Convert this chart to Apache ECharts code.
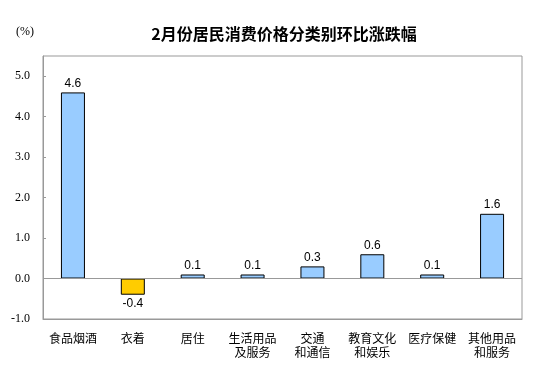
<!DOCTYPE html>
<html>
<head>
<meta charset="utf-8">
<script src="https://cdn.jsdelivr.net/npm/echarts@6/dist/echarts.min.js"></script>
<style>
html,body{margin:0;padding:0;background:#fff;}
#chart{width:554px;height:384px;}
</style>
</head>
<body>
<div id="chart"></div>
<script>
var categories = ['食品烟酒', '衣着', '居住', '生活用品\n及服务', '交通\n和通信', '教育文化\n和娱乐', '医疗保健', '其他用品\n和服务'];
var values = [4.6, -0.4, 0.1, 0.1, 0.3, 0.6, 0.1, 1.6];
var yTicks = [-1, 0, 1, 2, 3, 4, 5];

var myChart = echarts.init(document.getElementById('chart'));

var barData = values.map(function (v) {
    return {
        value: v,
        itemStyle: {color: v < 0 ? '#FFCC00' : '#99CCFF'},
        label: {position: v < 0 ? 'bottom' : 'top'}
    };
});

var option = {
    animation: false,
    title: {
        text: '2月份居民消费价格分类别环比涨跌幅',
        left: 279,
        top: 21,
        textAlign: 'center',
        textStyle: {fontSize: 16, fontWeight: 'bold', color: '#000', fontFamily: 'Noto Sans CJK SC'}
    },
    graphic: [{
        type: 'text',
        left: 16,
        top: 26,
        style: {text: '(%)', fontSize: 12, fill: '#000', fontFamily: 'Liberation Serif'}
    }],
    grid: {
        left: 43,
        right: 32,
        top: 56,
        bottom: 65,
        show: true,
        borderColor: '#999',
        borderWidth: 1
    },
    xAxis: {
        type: 'category',
        data: categories,
        axisLine: {onZero: false, lineStyle: {color: '#999'}},
        axisTick: {show: false},
        axisLabel: {
            margin: 12,
            color: '#000',
            fontSize: 12,
            lineHeight: 14,
            fontFamily: 'Noto Sans CJK SC',
            interval: 0
        }
    },
    yAxis: {
        type: 'value',
        min: yTicks[0],
        max: 5.5,
        interval: 1,
        splitLine: {show: false},
        axisLine: {show: true, lineStyle: {color: '#999'}},
        axisTick: {show: true, inside: true, length: 3, lineStyle: {color: '#999'}},
        axisLabel: {
            showMaxLabel: false,
            margin: 13,
            color: '#000',
            fontSize: 12,
            fontFamily: 'Liberation Serif',
            formatter: function (v) { return v.toFixed(1); }
        }
    },
    series: [{
        type: 'bar',
        data: barData,
        barWidth: 24,
        itemStyle: {borderColor: '#000', borderWidth: 1},
        label: {
            show: true,
            distance: 3,
            color: '#000',
            fontSize: 12,
            fontFamily: 'Liberation Sans',
            formatter: function (p) { return p.value.toFixed(1); }
        },
        markLine: {
            silent: true,
            symbol: 'none',
            label: {show: false},
            lineStyle: {color: '#999', type: 'solid', width: 1},
            data: [{yAxis: 0}]
        }
    }]
};
myChart.setOption(option);
</script>
</body>
</html>
